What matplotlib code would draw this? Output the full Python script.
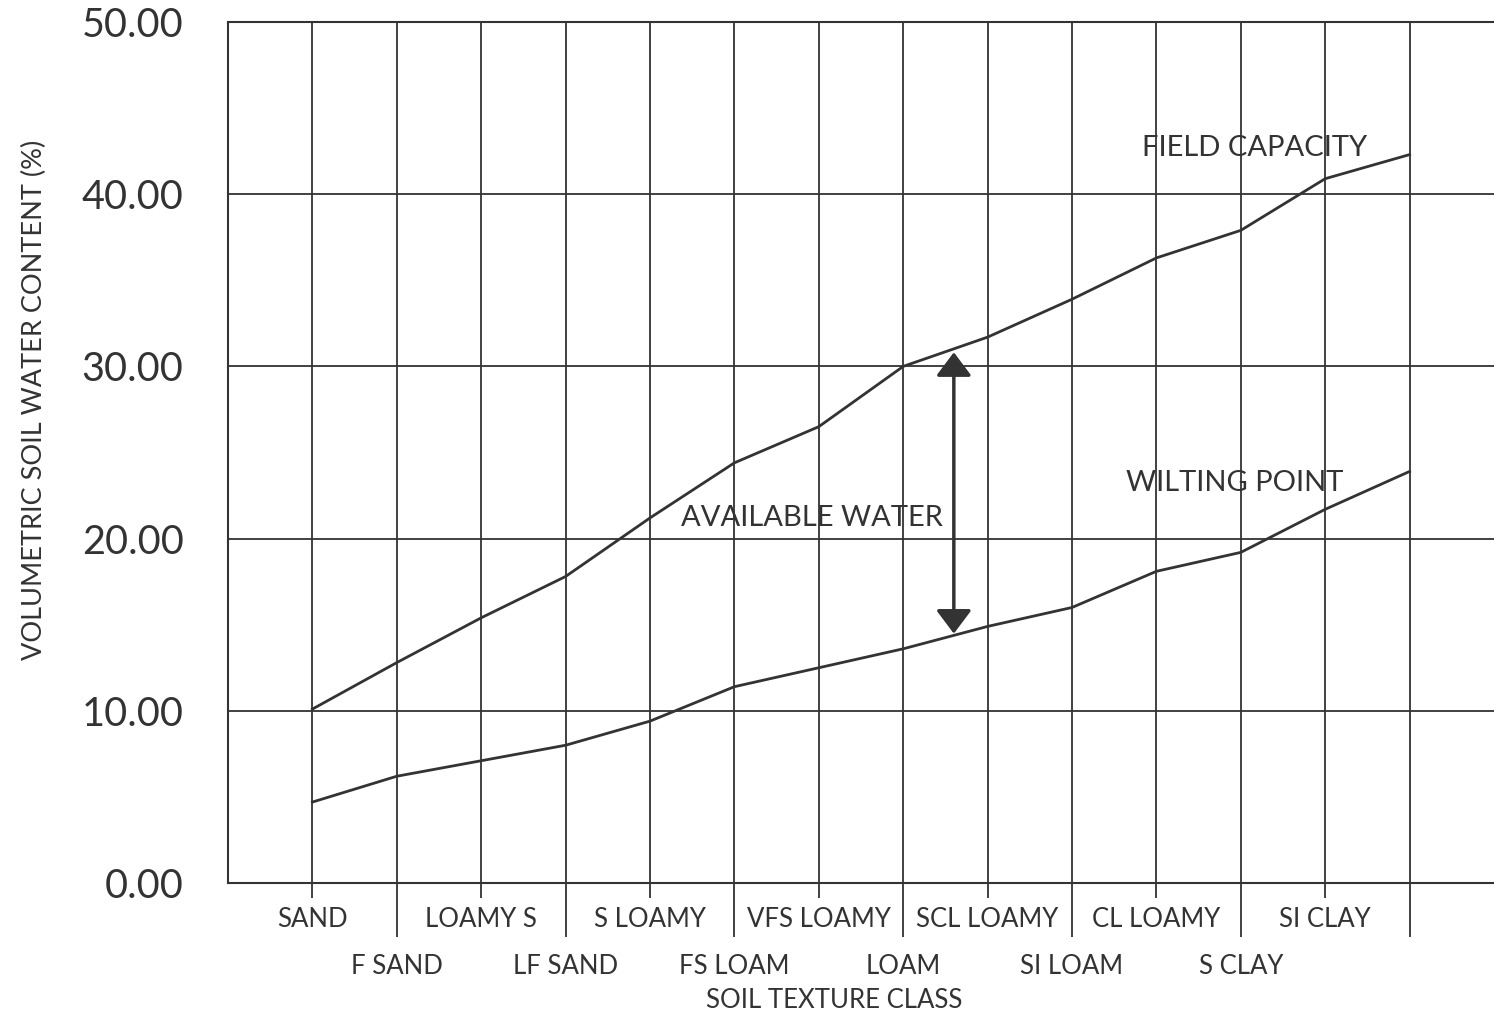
import numpy as np
import matplotlib
matplotlib.use("Agg")
import matplotlib.pyplot as plt

plt.rcParams['font.family'] = ['Lato', 'DejaVu Sans']

# soil texture classes (last position has no label)
classes = ["SAND", "F SAND", "LOAMY S", "LF SAND", "S LOAMY", "FS LOAM",
           "VFS LOAMY", "LOAM", "SCL LOAMY", "SI LOAM", "CL LOAMY", "S CLAY",
           "SI CLAY", ""]
field_capacity = [10.1, 12.8, 15.4, 17.8, 21.2, 24.4, 26.5, 30.0, 31.7, 33.9,
                  36.3, 37.9, 40.9, 42.3]
wilting_point = [4.7, 6.2, 7.1, 8.0, 9.4, 11.4, 12.5, 13.6, 14.9, 16.0,
                 18.1, 19.2, 21.7, 23.9]
yticks = [0, 10, 20, 30, 40, 50]
arrow_x = 7.6

INK = "#333333"
x = np.arange(len(classes))

fig = plt.figure(figsize=(14.94, 10.16), dpi=100)
ax = fig.add_axes([228/1494, 133/1016, 1 - 228/1494, 861/1016])

ax.set_xlim(-1, 14)
ax.set_ylim(0, 50)

ax.plot(x, field_capacity, color=INK, lw=2.0, zorder=3)
ax.plot(x, wilting_point, color=INK, lw=2.0, zorder=3)

# grid
for v in yticks[1:-1]:
    ax.axhline(v, color=INK, lw=1.3, zorder=1)
for xi in x:
    ax.axvline(xi, color=INK, lw=1.3, zorder=1)

for s in ["left", "bottom", "top"]:
    ax.spines[s].set_color(INK)
    ax.spines[s].set_linewidth(1.5)
ax.spines["right"].set_visible(False)

# y axis
ax.set_yticks(yticks)
ax.set_yticklabels([f"{v:.2f}" for v in yticks])
ax.tick_params(axis="y", length=0, pad=32, labelsize=28.5, labelcolor=INK)

# x axis: staggered labels, even on first row, odd on second row
ax.set_xticks(x[::2])
ax.set_xticklabels(classes[::2])
ax.set_xticks(x[1::2], minor=True)
ax.set_xticklabels(classes[1::2], minor=True)
ax.tick_params(axis="x", which="major", length=11, width=1.3, color=INK,
               pad=6, labelsize=18.5, labelcolor=INK)
ax.tick_params(axis="x", which="minor", length=39, width=1.3, color=INK,
               pad=12, labelsize=18.5, labelcolor=INK)

ax.set_xlabel("SOIL TEXTURE CLASS", fontsize=18.5, color=INK, va="center")
ax.xaxis.set_label_coords(0.479, -0.137)
ax.set_ylabel("VOLUMETRIC SOIL WATER CONTENT (%)", fontsize=19.5, color=INK,
              va="center")
ax.yaxis.set_label_coords(-0.153, 0.561)

# annotations
ax.text(11.16, 42.7, "FIELD CAPACITY", fontsize=21, color=INK,
        ha="center", va="center", zorder=4)
ax.text(10.93, 23.2, "WILTING POINT", fontsize=21, color=INK,
        ha="center", va="center", zorder=4)
ax.text(5.92, 21.2, "AVAILABLE WATER", fontsize=21, color=INK,
        ha="center", va="center", zorder=4)

y_top = np.interp(arrow_x, x, field_capacity)
y_bot = np.interp(arrow_x, x, wilting_point)
ax.annotate("", xy=(arrow_x, y_top - 0.2), xytext=(arrow_x, y_bot + 0.1),
            arrowprops=dict(arrowstyle="<|-|>,head_length=0.6,head_width=0.45",
                            color=INK, lw=2.5, mutation_scale=24,
                            shrinkA=0, shrinkB=0), zorder=5)

fig.savefig("out.png", dpi=100)
